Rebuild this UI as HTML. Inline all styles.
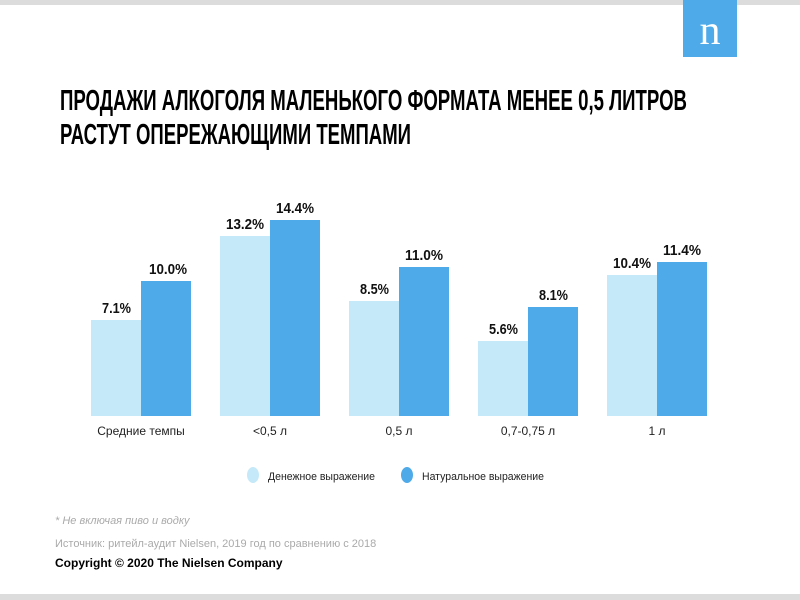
<!DOCTYPE html>
<html><head><meta charset="utf-8"><style>
body{margin:0;background:#fff}
svg{display:block}
</style></head><body>
<svg width="800" height="600" xmlns="http://www.w3.org/2000/svg" font-family="'Liberation Sans', sans-serif">
<rect x="0" y="0" width="800" height="5" fill="#dcdcdc"/>
<rect x="0" y="594" width="800" height="6" fill="#dcdcdc"/>
<rect x="683" y="0" width="54" height="57" fill="#4eaae8"/>
<text x="710" y="44" font-family="'Liberation Serif', serif" font-size="42" fill="#fff" text-anchor="middle">n</text>
<g font-family="'Liberation Sans Narrow','Liberation Sans',sans-serif" font-weight="bold" font-size="29" fill="#000">
<text x="60" y="110" textLength="627" lengthAdjust="spacingAndGlyphs">ПРОДАЖИ АЛКОГОЛЯ МАЛЕНЬКОГО ФОРМАТА МЕНЕЕ 0,5 ЛИТРОВ</text>
<text x="60" y="144" textLength="351" lengthAdjust="spacingAndGlyphs">РАСТУТ ОПЕРЕЖАЮЩИМИ ТЕМПАМИ</text>
</g>
<g fill="#c5e9f8">
<rect x="91" y="320" width="50" height="96"/>
<rect x="220" y="236" width="50" height="180"/>
<rect x="349" y="301" width="50" height="115"/>
<rect x="478" y="341" width="50" height="75"/>
<rect x="607" y="275" width="50" height="141"/>
</g>
<g fill="#4eaae8">
<rect x="141" y="281" width="50" height="135"/>
<rect x="270" y="220" width="50" height="196"/>
<rect x="399" y="267" width="50" height="149"/>
<rect x="528" y="307" width="50" height="109"/>
<rect x="657" y="262" width="50" height="154"/>
</g>
<g font-weight="bold" font-size="15" fill="#111">
<text x="102" y="313" textLength="29" lengthAdjust="spacingAndGlyphs">7.1%</text><text x="149" y="274" textLength="38" lengthAdjust="spacingAndGlyphs">10.0%</text>
<text x="226" y="229" textLength="38" lengthAdjust="spacingAndGlyphs">13.2%</text><text x="276" y="213" textLength="38" lengthAdjust="spacingAndGlyphs">14.4%</text>
<text x="360" y="294" textLength="29" lengthAdjust="spacingAndGlyphs">8.5%</text><text x="405" y="260" textLength="38" lengthAdjust="spacingAndGlyphs">11.0%</text>
<text x="489" y="334" textLength="29" lengthAdjust="spacingAndGlyphs">5.6%</text><text x="539" y="300" textLength="29" lengthAdjust="spacingAndGlyphs">8.1%</text>
<text x="613" y="268" textLength="38" lengthAdjust="spacingAndGlyphs">10.4%</text><text x="663" y="255" textLength="38" lengthAdjust="spacingAndGlyphs">11.4%</text>
</g>
<g font-size="12" fill="#222" text-anchor="middle">
<text x="141" y="435">Средние темпы</text>
<text x="270" y="435">&lt;0,5 л</text>
<text x="399" y="435">0,5 л</text>
<text x="528" y="435">0,7-0,75 л</text>
<text x="657" y="435">1 л</text>
</g>
<ellipse cx="253" cy="475" rx="6" ry="8" fill="#c5e9f8"/>
<text x="268" y="480" font-size="11" fill="#222" textLength="107" lengthAdjust="spacingAndGlyphs">Денежное выражение</text>
<ellipse cx="407" cy="475" rx="6" ry="8" fill="#4eaae8"/>
<text x="422" y="480" font-size="11" fill="#222" textLength="122" lengthAdjust="spacingAndGlyphs">Натуральное выражение</text>
<text x="55" y="524" font-size="11" font-style="italic" fill="#aaa">* Не включая пиво и водку</text>
<text x="55" y="547" font-size="11" fill="#aaa">Источник: ритейл-аудит Nielsen, 2019 год по сравнению с 2018</text>
<text x="55" y="567" font-size="12" font-weight="bold" fill="#000">Copyright © 2020 The Nielsen Company</text>
</svg>
</body></html>
